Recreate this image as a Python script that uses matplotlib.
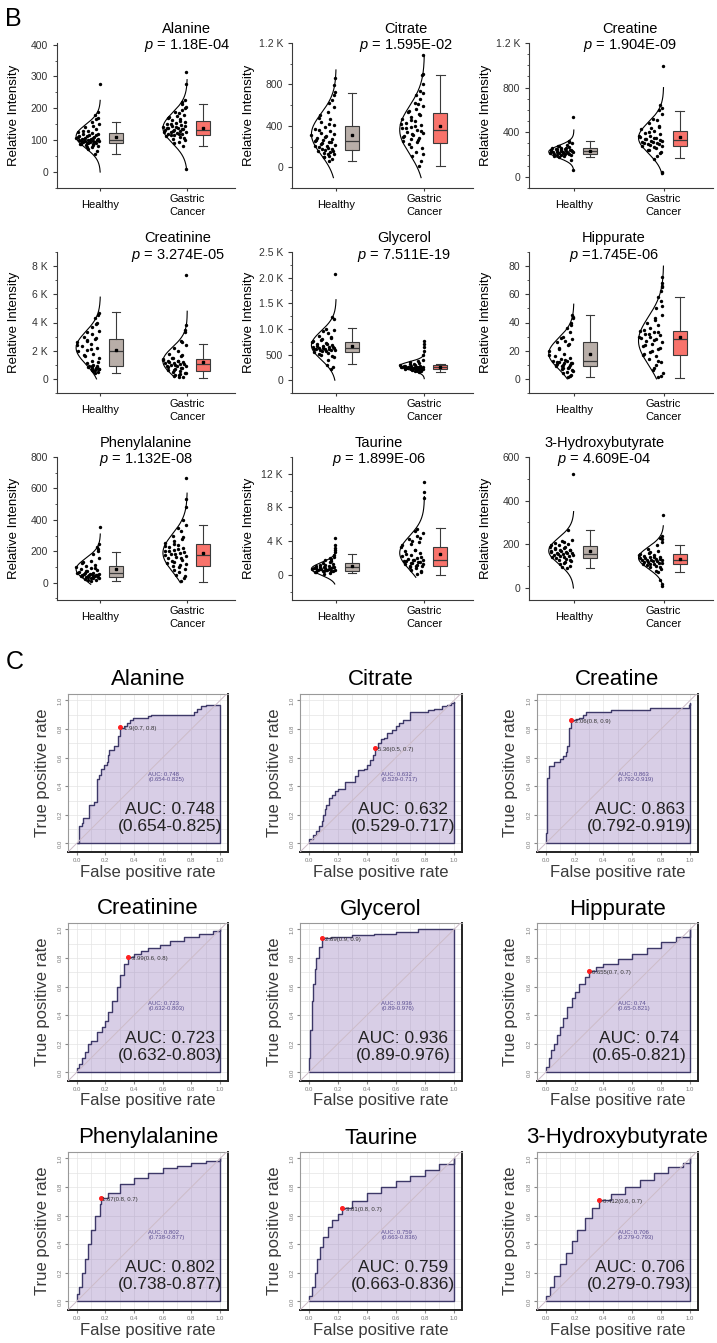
"""Box/half-normal plots (panel B) and ROC curves (panel C) for nine metabolites."""

import numpy as np
import matplotlib
matplotlib.use("Agg")
import matplotlib.pyplot as plt
from matplotlib.ticker import MultipleLocator

plt.rcParams["font.family"] = ["Liberation Sans", "DejaVu Sans"]
plt.rcParams["mathtext.fontset"] = "custom"
plt.rcParams["mathtext.it"] = "Liberation Sans:italic"
plt.rcParams["mathtext.rm"] = "Liberation Sans"

FIG_W, FIG_H = 717, 1343

METABOLITES = ["Alanine", "Citrate", "Creatine", "Creatinine", "Glycerol",
               "Hippurate", "Phenylalanine", "Taurine", "3-Hydroxybutyrate"]
P_VALUES = ["= 1.18E-04", "= 1.595E-02", "= 1.904E-09", "= 3.274E-05",
            "= 7.511E-19", "=1.745E-06", "= 1.132E-08", "= 1.899E-06",
            "= 4.609E-04"]
GROUPS = ["Healthy", "Gastric\nCancer"]

# --- panel B: individual values --------------------------------------------
ALANINE_H = [57, 65, 72, 78, 82, 85, 87, 88, 90, 91, 93, 95, 96, 98, 99, 100,
             101, 102, 103, 104, 106, 108, 110, 112, 115, 118, 120, 122, 125,
             130, 135, 140, 145, 150, 158, 170, 178, 190, 275,
             80, 86, 89, 92, 94, 97, 100, 103, 105, 107, 111, 114, 117, 128, 165]
ALANINE_GC = [10, 83, 90, 95, 100, 105, 110, 113, 116, 118, 120, 123, 125, 127,
              129, 131, 133, 135, 137, 139, 141, 144, 147, 150, 154, 158, 162,
              166, 170, 175, 180, 188, 195, 205, 213, 225, 275, 315,
              108, 115, 121, 126, 130, 134, 138, 142, 146, 152, 160, 172, 185,
              200, 220]
CITRATE_H = [60, 80, 95, 110, 125, 140, 150, 160, 170, 180, 195, 205, 215, 225,
             240, 250, 260, 270, 285, 300, 315, 330, 350, 370, 390, 410, 440,
             470, 500, 530, 580, 620, 700, 730, 790, 860,
             100, 130, 155, 175, 190, 210, 230, 245, 265, 290, 320, 360, 420,
             480, 650]
CITRATE_GC = [10, 60, 110, 150, 190, 220, 240, 255, 270, 285, 300, 315, 330,
              345, 360, 375, 390, 410, 430, 450, 470, 490, 510, 530, 560, 590,
              620, 660, 700, 740, 800, 890, 1080,
              130, 200, 260, 290, 320, 350, 380, 400, 420, 460, 500, 540, 610,
              720, 900]
CREATINE_H = [60, 150, 175, 185, 195, 200, 205, 210, 213, 217, 220, 224, 228,
              231, 234, 237, 240, 244, 248, 252, 257, 262, 268, 275, 285, 300,
              320, 540,
              190, 198, 203, 208, 215, 219, 222, 226, 230, 236, 242, 250, 260,
              280, 310]
CREATINE_GC = [30, 45, 160, 190, 220, 245, 260, 275, 285, 295, 305, 315, 325,
               335, 345, 355, 365, 380, 395, 410, 425, 440, 460, 480, 510, 560,
               600, 620, 640, 990,
               210, 240, 265, 280, 290, 300, 310, 320, 330, 340, 350, 370, 400,
               450, 520]
CREATININE_H = [400, 500, 600, 650, 700, 750, 800, 850, 900, 950, 1100, 1300,
                1500, 1650, 1800, 1950, 2050, 2200, 2300, 2450, 2600, 2750,
                2850, 3000, 3200, 3400, 3700, 4000, 4300, 4500, 4700,
                550, 680, 720, 780, 820, 880, 1000, 1200, 1700, 2100, 2400,
                2700, 2900, 3300, 3900]
CREATININE_GC = [100, 150, 200, 300, 400, 500, 550, 600, 700, 800, 850, 900,
                 950, 1000, 1050, 1100, 1150, 1200, 1250, 1300, 1400, 1500,
                 1600, 1800, 2000, 2400, 2700, 3300, 3500, 3800, 7400,
                 250, 350, 450, 650, 750, 900, 980, 1080, 1180, 1280, 1350,
                 1450, 1700, 2200, 2600]
GLYCEROL_H = [220, 250, 300, 400, 450, 500, 530, 550, 570, 590, 600, 610, 620,
              630, 640, 650, 670, 690, 710, 730, 750, 780, 820, 870, 920, 980,
              1000, 1200, 1230, 2080,
              480, 520, 560, 580, 595, 605, 615, 625, 645, 660, 700, 760, 800,
              850, 950]
GLYCEROL_GC = [150, 170, 190, 200, 210, 215, 220, 225, 230, 235, 240, 245,
               250, 255, 260, 265, 270, 275, 280, 290, 300, 310, 330, 350, 380,
               400, 500, 560, 640, 700, 770,
               180, 205, 212, 218, 222, 228, 232, 238, 242, 248, 252, 258, 262,
               285, 320]
HIPPURATE_H = [1.5, 3, 4, 5, 6, 7, 8, 9, 9.5, 10, 10.5, 11, 11.5, 12, 12.5, 13,
               14, 15, 16, 18, 20, 22, 24, 26, 27, 28, 30, 33, 36, 40, 43, 45,
               2, 5.5, 7.5, 8.5, 9.8, 10.2, 11.2, 12.2, 13.5, 17, 21, 25, 29,
               38, 44]
HIPPURATE_GC = [1, 2, 6, 10, 12, 14, 16, 17, 19, 21, 23, 25, 26, 27, 28, 29,
                30, 31, 32, 33, 34, 36, 38, 40, 43, 45, 50, 55, 58, 62, 65, 68,
                72,
                4, 8, 13, 18, 20, 22, 24, 27.5, 29.5, 31.5, 33.5, 35, 42, 52,
                66]
PHENYLALANINE_H = [10, 20, 25, 30, 35, 38, 40, 42, 45, 48, 50, 53, 56, 60, 63,
                   67, 72, 78, 85, 92, 100, 108, 115, 125, 140, 160, 180, 200,
                   230, 245, 355,
                   15, 28, 32, 36, 41, 44, 47, 52, 55, 58, 65, 75, 95, 130,
                   215]
PHENYLALANINE_GC = [10, 30, 50, 70, 90, 105, 115, 125, 135, 145, 155, 165, 172,
                    180, 190, 200, 210, 220, 230, 240, 250, 265, 280, 300, 330,
                    365, 400, 480, 530, 665,
                    40, 80, 100, 120, 140, 160, 175, 185, 195, 205, 215, 235,
                    245, 290, 350]
TAURINE_H = [150, 250, 350, 450, 500, 550, 600, 650, 700, 750, 800, 850, 900,
             950, 1000, 1100, 1200, 1300, 1400, 1500, 1700, 1900, 2100, 2400,
             2700, 3000, 3500, 4400,
             300, 400, 480, 520, 580, 620, 680, 720, 780, 880, 980, 1150,
             1600, 2000, 3200]
TAURINE_GC = [50, 300, 600, 800, 1000, 1100, 1200, 1300, 1400, 1500, 1600,
              1700, 1800, 1900, 2000, 2200, 2400, 2600, 2800, 3000, 3300, 3600,
              3900, 4200, 4600, 5000, 5400, 9100, 9800, 11000,
              400, 900, 1050, 1250, 1350, 1550, 1650, 1750, 2100, 2500, 2900,
              3500, 4000, 4400, 5200]
HB3_H = [90, 100, 110, 120, 125, 130, 135, 140, 145, 148, 152, 155, 158, 161,
         165, 168, 172, 176, 180, 185, 190, 195, 200, 205, 210, 220, 265, 520,
         95, 115, 128, 138, 143, 150, 156, 160, 163, 170, 175, 182, 188, 198,
         215]
HB3_GC = [10, 20, 35, 72, 85, 95, 102, 108, 112, 116, 120, 124, 127, 130, 133,
          136, 140, 144, 148, 152, 156, 162, 170, 180, 195, 210, 230, 240, 335,
          80, 98, 105, 110, 114, 118, 122, 126, 129, 132, 138, 142, 150, 165,
          225]

POINTS_H = [ALANINE_H, CITRATE_H, CREATINE_H, CREATININE_H, GLYCEROL_H,
            HIPPURATE_H, PHENYLALANINE_H, TAURINE_H, HB3_H]
POINTS_GC = [ALANINE_GC, CITRATE_GC, CREATINE_GC, CREATININE_GC, GLYCEROL_GC,
             HIPPURATE_GC, PHENYLALANINE_GC, TAURINE_GC, HB3_GC]

# box stats: (whisker low, q1, median, q3, whisker high, mean)
BOX_H = [(57, 90, 102, 122, 157, 110), (60, 164, 256, 397, 721, 311),
         (182, 206, 233, 261, 324, 233), (424, 941, 2000, 2824, 4753, 2070),
         (314, 545, 622, 750, 1019, 673), (1.4, 9.4, 12.7, 25.9, 45.4, 17.4),
         (11, 38, 60, 106, 198, 85), (160, 485, 890, 1370, 2500, 1000),
         (90, 136, 157, 194, 264, 168)]
BOX_GC = [(83, 115, 133, 160, 213, 138), (10, 239, 361, 521, 895, 397),
          (170, 279, 333, 412, 591, 358), (94, 588, 1035, 1412, 2447, 1224),
          (150, 220, 250, 290, 320, 260), (0.7, 16.7, 28.2, 34.1, 58.4, 29.4),
          (6, 106, 174, 247, 368, 187), (0, 1050, 1780, 3310, 5530, 2500),
          (72, 111, 130, 154, 197, 134)]

# fitted normal curve: (mean, sd, drawn from, drawn to)
CURVE_H = [(112, 37, 0, 225), (320, 200, -100, 940), (225, 55, 60, 420),
           (2200, 1150, 0, 5800), (680, 280, 0, 1570), (18, 11, 0, 53),
           (85, 70, -10, 310), (700, 750, -1100, 2750), (170, 60, 0, 350)]
CURVE_GC = [(138, 48, 5, 290), (360, 230, -100, 1080), (350, 140, 20, 800),
            (1250, 1000, 100, 4800), (280, 80, 30, 520), (27, 17, 0, 80),
            (190, 120, 0, 570), (2600, 2000, -300, 9300), (138, 50, 8, 285)]

YTICKS = [[0, 100, 200, 300, 400], [0, 400, 800, 1200], [0, 400, 800, 1200],
          [0, 2000, 4000, 6000, 8000], [0, 500, 1000, 1500, 2000, 2500],
          [0, 20, 40, 60, 80], [0, 200, 400, 600, 800], [0, 4000, 8000, 12000],
          [0, 200, 400, 600]]
YTICK_LABELS = [["0", "100", "200", "300", "400"],
                ["0", "400", "800", "1.2 K"], ["0", "400", "800", "1.2 K"],
                ["0", "2 K", "4 K", "6 K", "8 K"],
                ["0", "500", "1.0 K", "1.5 K", "2.0 K", "2.5 K"],
                ["0", "20", "40", "60", "80"], ["0", "200", "400", "600", "800"],
                ["0", "4 K", "8 K", "12 K"], ["0", "200", "400", "600"]]
YMINOR = [50, 200, 100, 1000, 250, 10, 100, 2000, 100]
YLIMS = [(-50, 405), (-200, 1200), (-100, 1200), (-1000, 9000), (-250, 2500),
         (-10, 90), (-110, 800), (-3000, 14000), (-55, 600)]

# --- panel C: ROC staircase corners (fpr, tpr) ------------------------------
ALANINE_FPR = [0, 0.014, 0.04, 0.045, 0.088, 0.12, 0.14, 0.155, 0.17, 0.19,
               0.21, 0.22, 0.225, 0.26, 0.28, 0.285, 0.30, 0.33, 0.35, 0.37,
               0.39, 0.50, 0.52, 0.80, 0.82, 0.84, 0.87, 0.90, 1.0]
ALANINE_TPR = [0, 0.12, 0.14, 0.18, 0.27, 0.29, 0.45, 0.48, 0.52, 0.55, 0.57,
               0.62, 0.65, 0.68, 0.68, 0.75, 0.81, 0.82, 0.84, 0.86, 0.88,
               0.89, 0.90, 0.90, 0.92, 0.94, 0.96, 0.97, 0.97]
CITRATE_FPR = [0, 0.03, 0.05, 0.07, 0.09, 0.10, 0.11, 0.12, 0.14, 0.16, 0.18,
               0.20, 0.25, 0.26, 0.32, 0.34, 0.38, 0.40, 0.42, 0.44, 0.455,
               0.48, 0.50, 0.52, 0.54, 0.57, 0.60, 0.62, 0.65, 0.70, 0.80,
               0.82, 0.86, 0.92, 0.95, 0.98, 1.0]
CITRATE_TPR = [0.03, 0.06, 0.09, 0.12, 0.16, 0.20, 0.24, 0.27, 0.32, 0.34,
               0.37, 0.38, 0.43, 0.43, 0.47, 0.51, 0.52, 0.55, 0.58, 0.62,
               0.67, 0.70, 0.73, 0.74, 0.77, 0.79, 0.82, 0.84, 0.86, 0.92,
               0.92, 0.93, 0.94, 0.96, 0.97, 0.98, 0.99]
CREATINE_FPR = [0, 0.01, 0.025, 0.06, 0.10, 0.12, 0.14, 0.15, 0.16, 0.165,
                0.175, 0.21, 0.23, 0.26, 0.28, 0.43, 0.45, 0.70, 0.72, 0.98,
                0.99, 1.0]
CREATINE_TPR = [0.07, 0.46, 0.54, 0.57, 0.59, 0.61, 0.64, 0.68, 0.77, 0.81,
                0.86, 0.87, 0.88, 0.90, 0.92, 0.92, 0.93, 0.93, 0.95, 0.95,
                0.97, 0.98]
CREATININE_FPR = [0, 0.02, 0.04, 0.06, 0.08, 0.10, 0.14, 0.18, 0.20, 0.22,
                  0.25, 0.28, 0.30, 0.33, 0.36, 0.40, 0.45, 0.50, 0.58, 0.65,
                  0.75, 0.85, 0.95, 1.0]
CREATININE_TPR = [0.03, 0.06, 0.10, 0.14, 0.20, 0.22, 0.28, 0.32, 0.36, 0.42,
                  0.50, 0.60, 0.68, 0.76, 0.81, 0.83, 0.85, 0.87, 0.89, 0.92,
                  0.95, 0.97, 0.99, 1.0]
GLYCEROL_FPR = [0, 0.01, 0.02, 0.03, 0.04, 0.05, 0.07, 0.09, 0.15, 0.30, 0.45,
                0.60, 0.75, 1.0]
GLYCEROL_TPR = [0.10, 0.30, 0.50, 0.62, 0.72, 0.80, 0.88, 0.94, 0.95, 0.96,
                0.97, 0.98, 1.0, 1.0]
HIPPURATE_FPR = [0, 0.02, 0.04, 0.06, 0.08, 0.10, 0.12, 0.15, 0.18, 0.20,
                 0.23, 0.27, 0.30, 0.35, 0.40, 0.50, 0.60, 0.70, 0.80, 0.90,
                 1.0]
HIPPURATE_TPR = [0.04, 0.10, 0.16, 0.20, 0.26, 0.32, 0.38, 0.46, 0.52, 0.56,
                 0.62, 0.67, 0.71, 0.74, 0.76, 0.79, 0.83, 0.87, 0.91, 0.95,
                 1.0]
PHENYLALANINE_FPR = [0, 0.02, 0.04, 0.06, 0.08, 0.10, 0.13, 0.16, 0.17, 0.22,
                     0.30, 0.40, 0.50, 0.60, 0.70, 0.80, 0.90, 1.0]
PHENYLALANINE_TPR = [0.05, 0.10, 0.20, 0.30, 0.40, 0.50, 0.60, 0.68, 0.72,
                     0.76, 0.82, 0.86, 0.90, 0.93, 0.95, 0.97, 0.98, 1.0]
TAURINE_FPR = [0, 0.02, 0.04, 0.06, 0.08, 0.10, 0.13, 0.16, 0.20, 0.23, 0.30,
               0.40, 0.50, 0.60, 0.70, 0.80, 0.90, 1.0]
TAURINE_TPR = [0.04, 0.10, 0.20, 0.30, 0.38, 0.45, 0.52, 0.57, 0.61, 0.65,
               0.70, 0.76, 0.80, 0.84, 0.88, 0.92, 0.96, 1.0]
HB3_FPR = [0, 0.03, 0.06, 0.10, 0.14, 0.18, 0.22, 0.27, 0.32, 0.37, 0.45,
           0.55, 0.65, 0.75, 0.85, 0.95, 1.0]
HB3_TPR = [0.04, 0.10, 0.18, 0.26, 0.34, 0.42, 0.50, 0.58, 0.65, 0.71, 0.75,
           0.80, 0.85, 0.90, 0.94, 0.97, 1.0]

ROC_FPR = [ALANINE_FPR, CITRATE_FPR, CREATINE_FPR, CREATININE_FPR,
           GLYCEROL_FPR, HIPPURATE_FPR, PHENYLALANINE_FPR, TAURINE_FPR, HB3_FPR]
ROC_TPR = [ALANINE_TPR, CITRATE_TPR, CREATINE_TPR, CREATININE_TPR,
           GLYCEROL_TPR, HIPPURATE_TPR, PHENYLALANINE_TPR, TAURINE_TPR, HB3_TPR]
AUC = ["0.748", "0.632", "0.863", "0.723", "0.936", "0.74", "0.802", "0.759",
       "0.706"]
AUC_CI = ["0.654-0.825", "0.529-0.717", "0.792-0.919", "0.632-0.803",
          "0.89-0.976", "0.65-0.821", "0.738-0.877", "0.663-0.836",
          "0.279-0.793"]
CUT_POINT = [(0.305, 0.815), (0.455, 0.67), (0.178, 0.86), (0.36, 0.81),
             (0.09, 0.94), (0.30, 0.71), (0.17, 0.72), (0.23, 0.65),
             (0.37, 0.71)]
CUT_LABEL = ["-1.9(0.7, 0.8)", "-5.36(0.5, 0.7)", "-2.06(0.8, 0.9)",
             "-3.99(0.6, 0.8)", "-2.89(0.9, 0.9)", "-0.655(0.7, 0.7)",
             "1.67(0.8, 0.7)", "-3.81(0.8, 0.7)", "-0.412(0.6, 0.7)"]

# layout (pixels, top-left origin)
BOX_COLS = [(57, 235), (292, 473), (529, 713)]
BOX_ROWS = [(43, 188), (252, 393), (457, 600)]
TITLE_X = [0.73, 0.63, 0.55, 0.68, 0.62, 0.46, 0.50, 0.48, 0.41]
ROC_COLS = [(68, 228), (300, 462), (537, 698)]
ROC_ROWS = [(694, 852), (923, 1081), (1152, 1310)]

CURVE_W = 0.28
BOX_OFF, BOX_W = 0.18, 0.16
COLOR_H, COLOR_GC = "#b8aea8", "#f8736b"
EDGE = "#3a3a3a"


def px_axes(fig, x0, y0, x1, y1):
    return fig.add_axes([x0 / FIG_W, 1 - y1 / FIG_H,
                         (x1 - x0) / FIG_W, (y1 - y0) / FIG_H])


def draw_group(ax, g, vals, box, curve, color):
    mu, sd, lo, hi = curve
    yy = np.linspace(lo, hi, 200)
    ax.plot(g - CURVE_W * np.exp(-0.5 * ((yy - mu) / sd) ** 2), yy,
            color="black", lw=0.8)
    v = np.asarray(vals, float)
    env = np.exp(-0.5 * ((v - mu) / sd) ** 2)
    frac = (np.arange(1, v.size + 1) * 0.618034) % 1.0  # spread inside curve
    ax.scatter(g - 0.01 - frac * CURVE_W * env, v, s=6, color="black",
               lw=0, zorder=3)
    wlo, q1, med, q3, whi, mean = box
    stats = [dict(whislo=wlo, q1=q1, med=med, q3=q3, whishi=whi, mean=mean,
                  fliers=[])]
    ax.bxp(stats, positions=[g + BOX_OFF], widths=BOX_W, capwidths=BOX_W * 0.6,
           showmeans=True, patch_artist=True, manage_ticks=False,
           boxprops=dict(facecolor=color, edgecolor=EDGE, lw=0.8),
           medianprops=dict(color=EDGE, lw=0.9),
           whiskerprops=dict(color=EDGE, lw=0.8),
           capprops=dict(color=EDGE, lw=0.8),
           meanprops=dict(marker="s", markersize=1.7, markerfacecolor="black",
                          markeredgecolor="black"))


def box_panel(fig, i):
    (x0, x1), (y0, y1) = BOX_COLS[i % 3], BOX_ROWS[i // 3]
    ax = px_axes(fig, x0, y0, x1, y1)
    draw_group(ax, 1, POINTS_H[i], BOX_H[i], CURVE_H[i], COLOR_H)
    draw_group(ax, 2, POINTS_GC[i], BOX_GC[i], CURVE_GC[i], COLOR_GC)
    ax.set_xlim(0.5, 2.55)
    ax.set_ylim(*YLIMS[i])
    ax.set_yticks(YTICKS[i], YTICK_LABELS[i])
    ax.yaxis.set_minor_locator(MultipleLocator(YMINOR[i]))
    ax.set_xticks([1, 2], GROUPS)
    for lab in ax.get_xticklabels():
        lab.set_va("center")
        lab.set_linespacing(1.3)
    ax.tick_params(axis="x", length=2.5, pad=10, labelsize=8, color=EDGE)
    ax.tick_params(axis="y", which="major", length=3, labelsize=7.5,
                   color=EDGE, labelcolor="#333333")
    ax.tick_params(axis="y", which="minor", length=1.6, color=EDGE)
    for s in ("top", "right"):
        ax.spines[s].set_visible(False)
    for s in ("left", "bottom"):
        ax.spines[s].set_color(EDGE)
        ax.spines[s].set_linewidth(0.8)
    ax.set_ylabel("Relative Intensity", fontsize=9.5)
    ax.yaxis.set_label_coords(-37 / (x1 - x0), 0.5)
    h = y1 - y0
    tx = TITLE_X[i]
    ax.text(tx, 1 + 14 / h, METABOLITES[i], transform=ax.transAxes,
            ha="center", va="center", fontsize=10.5)
    ax.text(tx, 1 - 3 / h, r"$\it{p}$ " + P_VALUES[i], transform=ax.transAxes,
            ha="center", va="center", fontsize=10.5)


def roc_panel(fig, i):
    (x0, x1), (y0, y1) = ROC_COLS[i % 3], ROC_ROWS[i // 3]
    ax = px_axes(fig, x0, y0, x1, y1)
    ax.set_xlim(-0.06, 1.055)
    ax.set_ylim(-0.06, 1.045)
    ticks = np.arange(0, 1.01, 0.2)
    ax.set_xticks(ticks, [f"{t:.1f}" for t in ticks])
    ax.set_yticks(ticks, [f"{t:.1f}" for t in ticks])
    ax.xaxis.set_minor_locator(MultipleLocator(0.1))
    ax.yaxis.set_minor_locator(MultipleLocator(0.1))
    ax.grid(which="both", color="#e4e4e4", lw=0.5)
    ax.set_axisbelow(True)
    ax.fill_between(ROC_FPR[i], 0, ROC_TPR[i], step="post",
                    facecolor=(0.6, 0.5, 0.75, 0.38), edgecolor="#3d3868",
                    lw=1.0, zorder=2)
    ax.plot([-0.06, 1.06], [-0.06, 1.06], color="#cdbcc8", lw=0.7, zorder=3)
    cx, cy = CUT_POINT[i]
    ax.plot(cx, cy, "o", color="#ff2020", ms=2.6, zorder=4)
    ax.text(cx + 0.01, cy - 0.01, CUT_LABEL[i], fontsize=4.3, color="#333333",
            ha="left", va="center", zorder=4)
    ax.text(0.5, 0.465, f"AUC: {AUC[i]}\n({AUC_CI[i]})", fontsize=4.3,
            color="#5b4f91", ha="left", va="center", zorder=4)
    ax.text(0.65, 0.18, f"AUC: {AUC[i]}\n({AUC_CI[i]})", fontsize=12.5,
            color="#222222", ha="center", va="center", zorder=4,
            linespacing=1.15)
    ax.tick_params(which="both", length=2, color="#888888", labelsize=4.3,
                   labelcolor="#777777", pad=2)
    ax.tick_params(which="minor", length=0)
    for lab in ax.get_yticklabels():
        lab.set_rotation(90)
        lab.set_va("center")
    for s in ("left", "top"):
        ax.spines[s].set_color("#999999")
        ax.spines[s].set_linewidth(0.8)
    for s in ("right", "bottom"):
        ax.spines[s].set_color("#222222")
        ax.spines[s].set_linewidth(1.4)
    h, w = y1 - y0, x1 - x0
    ax.text(0.5, 1 + 14 / h, METABOLITES[i], transform=ax.transAxes,
            ha="center", va="center", fontsize=16)
    ax.text(0.5, -20 / h, "False positive rate", transform=ax.transAxes,
            ha="center", va="center", fontsize=12, color="#3a3a3a")
    ax.text(-26 / w, 0.5, "True positive rate", transform=ax.transAxes,
            ha="center", va="center", rotation=90, fontsize=12,
            color="#3a3a3a")


def main():
    fig = plt.figure(figsize=(FIG_W / 100, FIG_H / 100), dpi=100)
    for i in range(len(METABOLITES)):
        box_panel(fig, i)
        roc_panel(fig, i)
    fig.text(5 / FIG_W, 1 - 19 / FIG_H, "B", fontsize=18, va="center")
    fig.text(6 / FIG_W, 1 - 662 / FIG_H, "C", fontsize=18, va="center")
    fig.savefig("out.png", dpi=100)


if __name__ == "__main__":
    main()
